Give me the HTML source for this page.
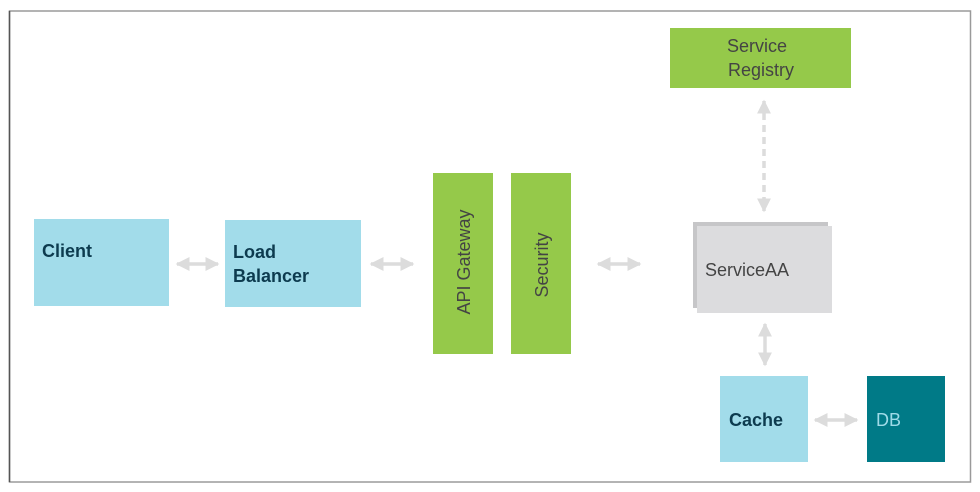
<!DOCTYPE html>
<html><head><meta charset="utf-8"><style>
html,body{margin:0;padding:0;background:#fff;}
svg{display:block;}
text{font-family:"Liberation Sans",sans-serif;}
</style></head><body>
<svg width="980" height="492" viewBox="0 0 980 492" xmlns="http://www.w3.org/2000/svg">
<defs>
<marker id="a" viewBox="0 0 10 10" refX="9" refY="5" markerWidth="4" markerHeight="4" orient="auto-start-reverse" markerUnits="strokeWidth">
<path d="M0,0 L10,5 L0,10 z" fill="#dcdcdc"/></marker>
</defs>
<rect x="9.5" y="11" width="961" height="471" fill="none" stroke="#9a9a9a" stroke-width="1.5"/>
<line x1="9.5" y1="11" x2="9.5" y2="482" stroke="#555" stroke-width="1.5"/>
<!-- boxes -->
<rect x="34" y="219" width="135" height="87" fill="#a2dcea"/>
<text x="42" y="257" font-size="18" font-weight="bold" fill="#0d3b4f">Client</text>
<rect x="225" y="220" width="136" height="87" fill="#a2dcea"/>
<text x="233" y="258" font-size="18" font-weight="bold" fill="#0d3b4f">Load</text>
<text x="233" y="282" font-size="18" font-weight="bold" fill="#0d3b4f">Balancer</text>
<rect x="433" y="173" width="60" height="181" fill="#95c94a"/>
<text transform="translate(470,262) rotate(-90)" text-anchor="middle" font-size="18" fill="#444">API Gateway</text>
<rect x="511" y="173" width="60" height="181" fill="#95c94a"/>
<text transform="translate(548,265) rotate(-90)" text-anchor="middle" font-size="18" fill="#444">Security</text>
<rect x="670" y="28" width="181" height="60" fill="#95c94a"/>
<text x="757" y="52" text-anchor="middle" font-size="18" fill="#444">Service</text>
<text x="761" y="76" text-anchor="middle" font-size="18" fill="#444">Registry</text>
<rect x="693" y="222" width="135" height="86" fill="#c6c6c8"/>
<rect x="697" y="226" width="135" height="87" fill="#dcdcde"/>
<text x="705" y="276" font-size="18" fill="#444">ServiceAA</text>
<rect x="720" y="376" width="88" height="86" fill="#a2dcea"/>
<text x="729" y="426" font-size="18" font-weight="bold" fill="#0d3b4f">Cache</text>
<rect x="867" y="376" width="78" height="86" fill="#007a87"/>
<text x="876" y="426" font-size="18" fill="#9fdbe8">DB</text>
<!-- connectors -->
<g stroke="#dcdcdc" stroke-width="3.5" fill="none">
<line x1="177" y1="264" x2="218" y2="264" marker-start="url(#a)" marker-end="url(#a)"/>
<line x1="371" y1="264" x2="413" y2="264" marker-start="url(#a)" marker-end="url(#a)"/>
<line x1="598" y1="264" x2="640" y2="264" marker-start="url(#a)" marker-end="url(#a)"/>
<line x1="765" y1="324" x2="765" y2="365" marker-start="url(#a)" marker-end="url(#a)"/>
<line x1="815" y1="420" x2="857" y2="420" marker-start="url(#a)" marker-end="url(#a)"/>
<line x1="764" y1="101" x2="764" y2="211" stroke-dasharray="7,5" marker-start="url(#a)" marker-end="url(#a)"/>
</g>
</svg>
</body></html>
